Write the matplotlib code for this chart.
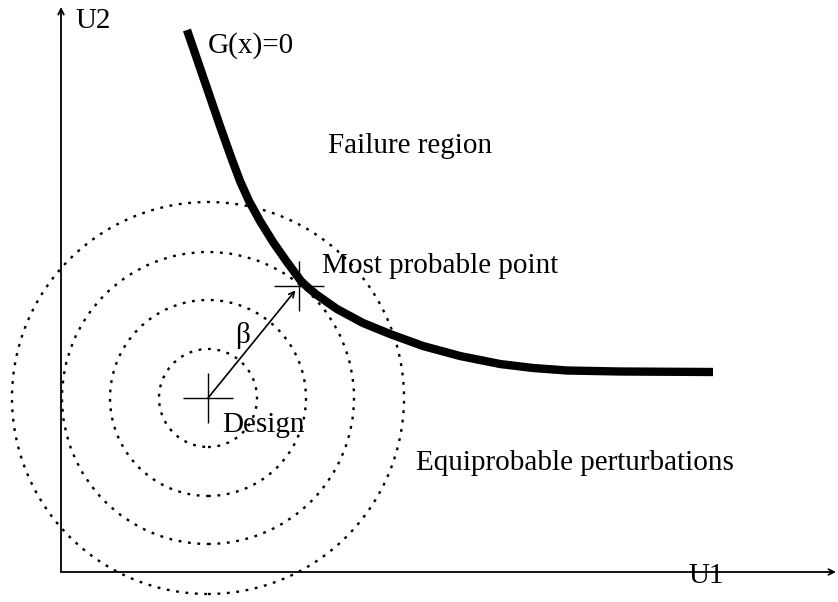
import numpy as np
import matplotlib.pyplot as plt
from matplotlib.patches import Circle

# limit state curve G(x)=0 (origin at the axes corner)
curve_u1 = [126, 137, 148, 159, 170, 179, 188, 199, 212, 226, 240, 248, 256, 276,
            302, 329, 362, 399, 439, 472, 506, 559, 652]
curve_u2 = [542, 510, 478, 446, 415, 391, 371, 351, 330, 310, 291, 283.5, 277, 263,
            249, 238, 226, 216, 208, 204, 201.5, 200.5, 200]

design = (147, 174)
mpp = (238, 286)
radii = [49, 98, 146, 196]

labels = {
    "U2": (14, 544),
    "G(x)=0": (147, 519),
    "Failure region": (267, 419),
    "Most probable point": (261, 299),
    "β": (174, 229),
    "Design": (161, 140),
    "Equiprobable perturbations": (355, 102),
    "U1": (627, -11),
}

plt.rcParams['font.family'] = ['Liberation Serif', 'DejaVu Serif']

fig = plt.figure(figsize=(8.38, 6.02), dpi=100)
ax = fig.add_axes([0, 0, 1, 1])
ax.set_xlim(-61, 777)
ax.set_ylim(-30, 572)
ax.axis('off')

# axes with arrows
ax.annotate('', xy=(0, 565), xytext=(0, 0),
            arrowprops=dict(arrowstyle='->', lw=1.3, color='black', shrinkA=0, shrinkB=0))
ax.annotate('', xy=(775, 0), xytext=(0, 0),
            arrowprops=dict(arrowstyle='->', lw=1.3, color='black', shrinkA=0, shrinkB=0))

# equiprobable circles
for r in radii:
    ax.add_patch(Circle(design, r, fill=False, color='black', lw=1.7, linestyle=(0, (1.2, 2.8))))

# limit state
ax.plot(curve_u1, curve_u2, color='black', lw=6, solid_capstyle='butt', solid_joinstyle='round')

# design point and most probable point
ax.plot(*design, marker='+', ms=36, mew=1, color='black')
ax.plot(*mpp, marker='+', ms=36, mew=1, color='black')
ax.annotate('', xy=mpp, xytext=design,
            arrowprops=dict(arrowstyle='->', lw=1.2, color='black', shrinkA=0, shrinkB=4))

for txt, (x, y) in labels.items():
    ax.text(x, y, txt, fontsize=21, ha='left', va='baseline')

fig.savefig('out.png', dpi=100)
